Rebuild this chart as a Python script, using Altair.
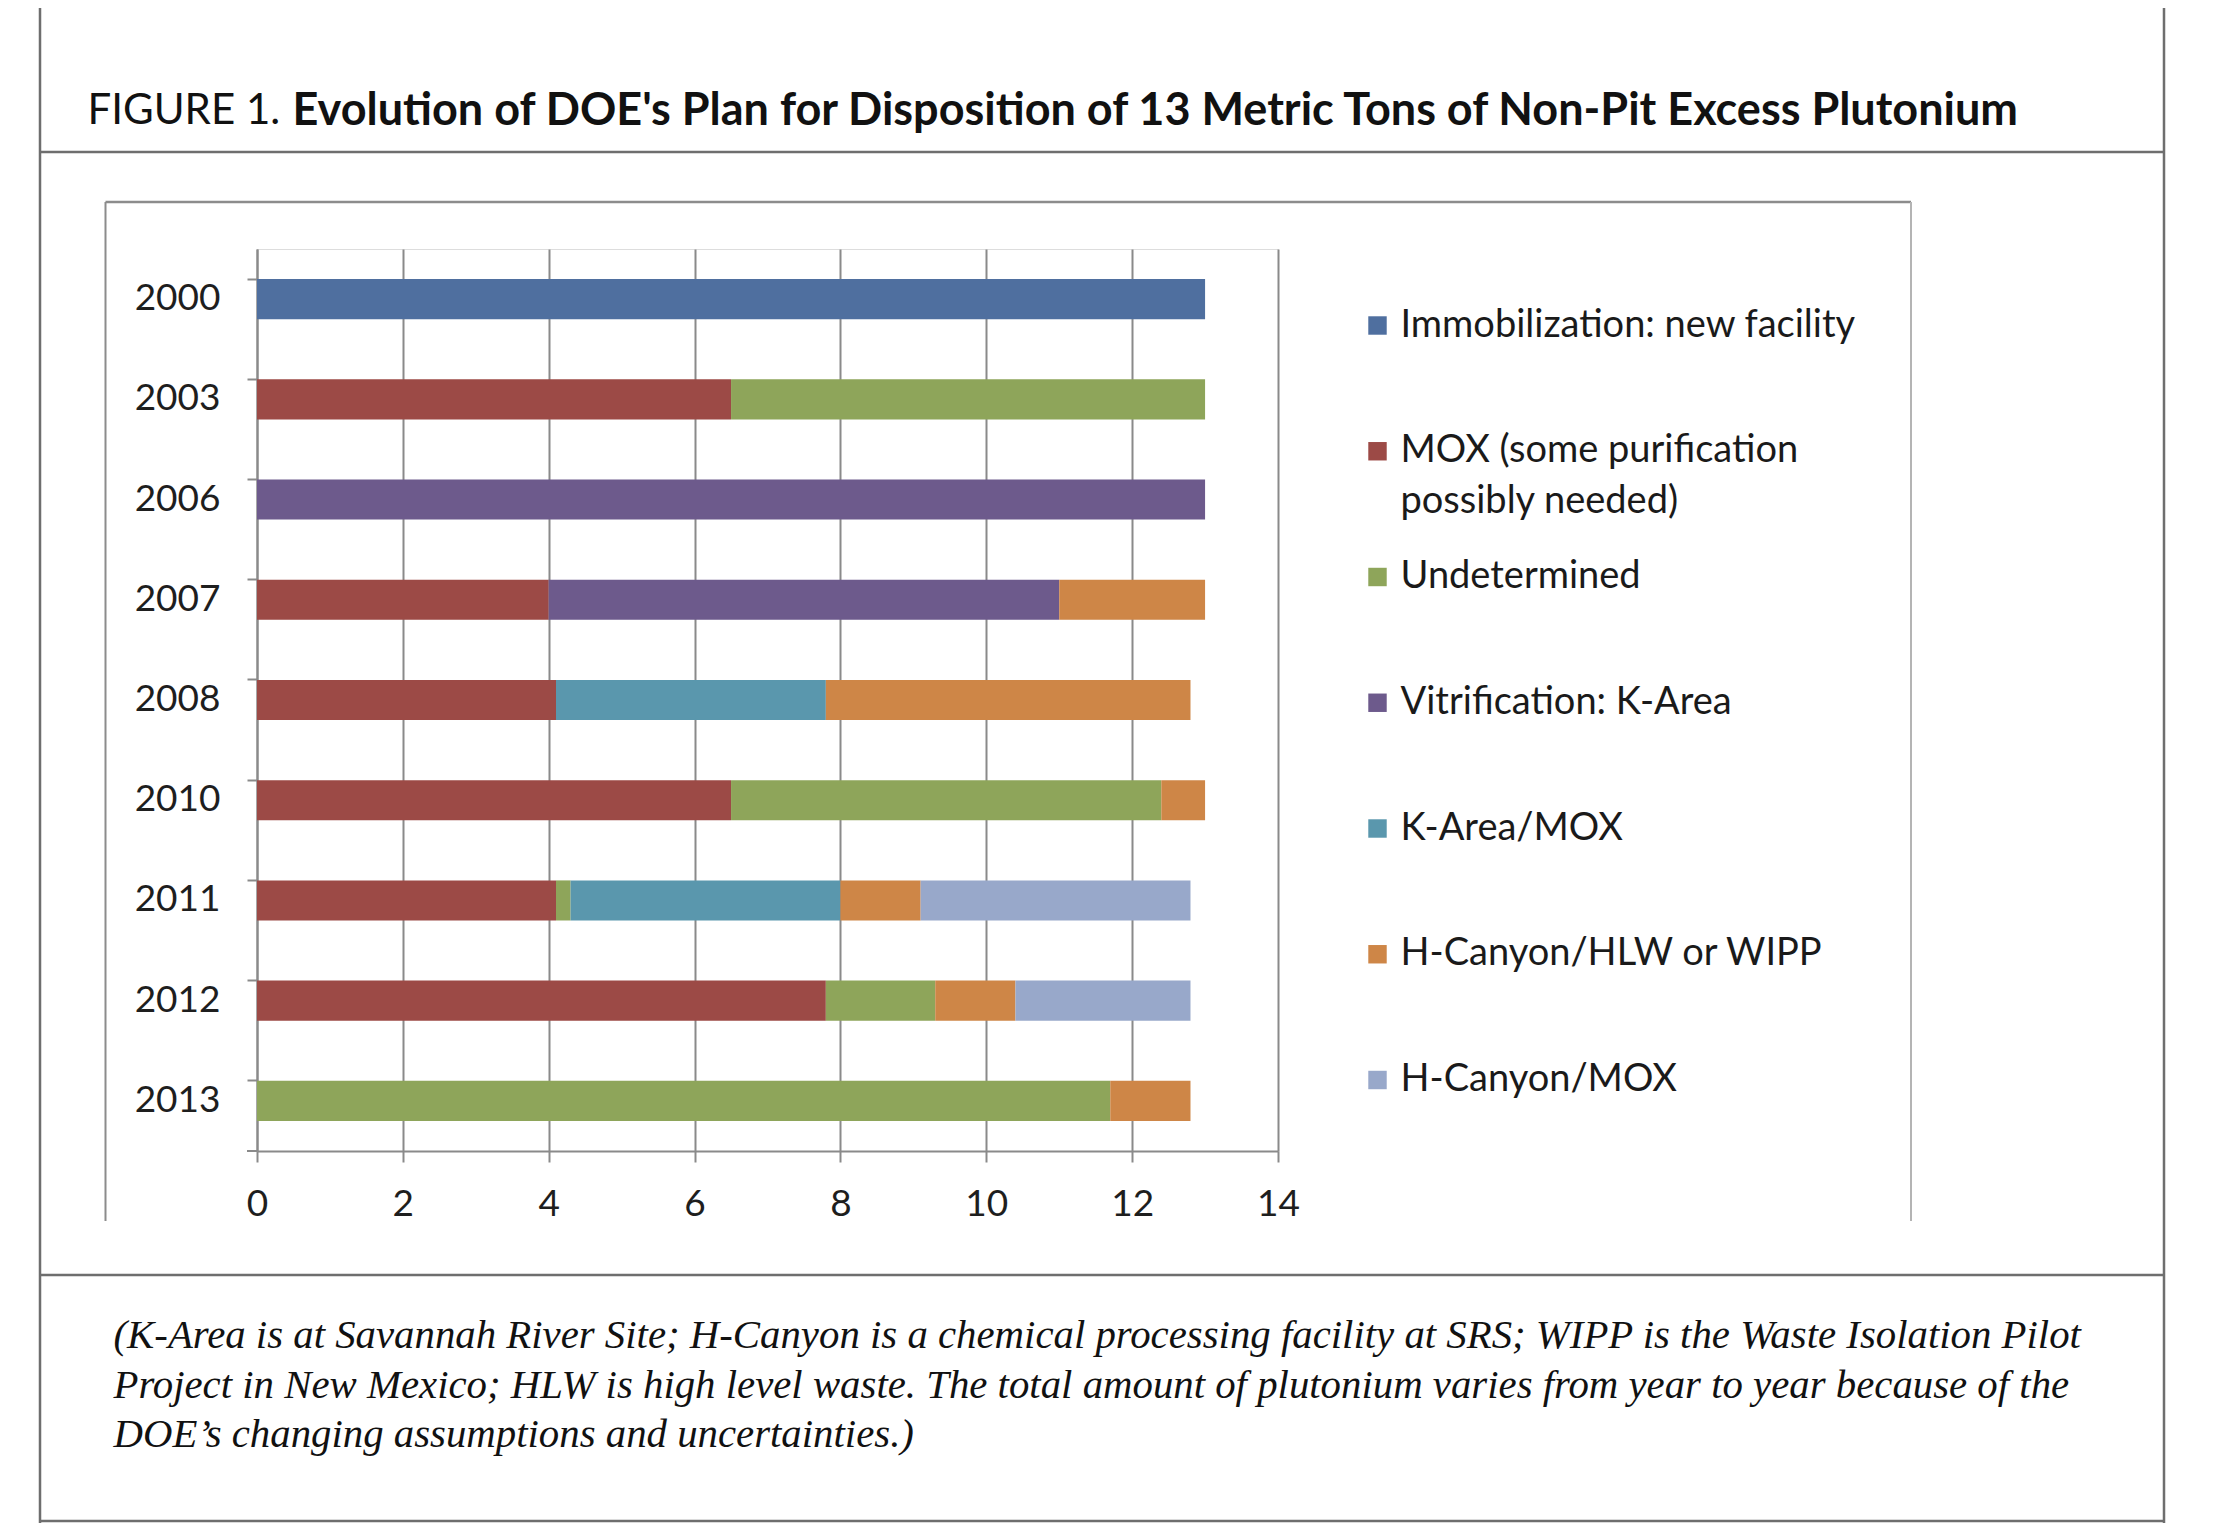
import altair as alt
import pandas as pd

# ---------------- data ----------------
years = ["2000", "2003", "2006", "2007", "2008", "2010", "2011", "2012", "2013"]
series = [
    "Immobilization: new facility",
    "MOX (some purification possibly needed)",
    "Undetermined",
    "Vitrification: K-Area",
    "K-Area/MOX",
    "H-Canyon/HLW or WIPP",
    "H-Canyon/MOX",
]
legend_line1 = [
    "Immobilization: new facility",
    "MOX (some purification",
    "Undetermined",
    "Vitrification: K-Area",
    "K-Area/MOX",
    "H-Canyon/HLW or WIPP",
    "H-Canyon/MOX",
]
legend_line2 = ["", "possibly needed)", "", "", "", "", ""]
colors = ["#4F6F9F", "#9C4A46", "#8EA55A", "#6D5A8C", "#5A97AD", "#CE8647", "#98A8CA"]

immobilization = [13, 0, 0, 0, 0, 0, 0, 0, 0]
mox = [0, 6.5, 0, 4.0, 4.1, 6.5, 4.1, 7.8, 0]
undetermined = [0, 6.5, 0, 0, 0, 5.9, 0.2, 1.5, 11.7]
vitrification = [0, 0, 13, 7.0, 0, 0, 0, 0, 0]
karea_mox = [0, 0, 0, 0, 3.7, 0, 3.7, 0, 0]
hcanyon_hlw = [0, 0, 0, 2.0, 5.0, 0.6, 1.1, 1.1, 1.1]
hcanyon_mox = [0, 0, 0, 0, 0, 0, 3.7, 2.4, 0]

x_ticks = [0, 2, 4, 6, 8, 10, 12, 14]

title_prefix = "FIGURE 1."
title_main = "Evolution of DOE's Plan for Disposition of 13 Metric Tons of Non-Pit Excess Plutonium"
caption_lines = [
    "(K-Area is at Savannah River Site; H-Canyon is a chemical processing facility at SRS; WIPP is the Waste Isolation Pilot",
    "Project in New Mexico; HLW is high level waste. The total amount of plutonium varies from year to year because of the",
    "DOE\u2019s changing assumptions and uncertainties.)",
]

# ---------------- tables ----------------
all_vals = [immobilization, mox, undetermined, vitrification, karea_mox, hcanyon_hlw, hcanyon_mox]
rows = []
for si, (name, vals) in enumerate(zip(series, all_vals)):
    for yi, v in enumerate(vals):
        if v > 0:
            rows.append({"year": years[yi], "series": name, "value": v, "order": si})
df = pd.DataFrame(rows)

leg = pd.DataFrame({"series": series, "line1": legend_line1, "line2": legend_line2})
one = pd.DataFrame({"k": [0]})

W, H = 1021, 902
GRAY = "#8a8a8a"
FONT = "Lato"

color_scale = alt.Scale(domain=series, range=colors)

bars = alt.Chart(df).mark_bar().encode(
    y=alt.Y(
        "year:N",
        sort=years,
        scale=alt.Scale(paddingInner=0.6, paddingOuter=0.3),
        axis=alt.Axis(
            title=None, domainColor=GRAY, domainWidth=2, tickColor=GRAY, tickWidth=2,
            tickSize=10, bandPosition=0, labelPadding=27, labelFont=FONT,
            labelFontSize=37, labelColor="#1e1e1e", grid=False,
        ),
    ),
    x=alt.X(
        "value:Q",
        stack="zero",
        scale=alt.Scale(domain=[0, 14], nice=False),
        axis=alt.Axis(
            title=None, values=x_ticks, grid=True, gridColor=GRAY, gridWidth=2,
            domainColor=GRAY, domainWidth=2, tickColor=GRAY, tickWidth=2, tickSize=11,
            labelFont=FONT, labelFontSize=37, labelColor="#1e1e1e", labelFlush=False,
            labelBaseline="middle", labelPadding=42,
        ),
    ),
    color=alt.Color("series:N", scale=color_scale, legend=None),
    order=alt.Order("order:Q"),
)

leg_y = alt.Y("series:N", sort=series,
              scale=alt.Scale(type="point", range=[76.5, 831], padding=0), axis=None)
leg_sq = alt.Chart(leg).mark_square(size=340, opacity=1).encode(
    x=alt.value(1120.5), y=leg_y,
    color=alt.Color("series:N", scale=color_scale, legend=None),
)
leg_t1 = alt.Chart(leg).mark_text(
    align="left", baseline="middle", font=FONT, fontSize=38, color="#1a1a1a"
).encode(x=alt.value(1143.5), y=leg_y, text="line1:N")
leg_t2 = alt.Chart(leg).transform_filter("datum.line2 != ''").mark_text(
    align="left", baseline="middle", font=FONT, fontSize=38, color="#1a1a1a", dy=51
).encode(x=alt.value(1143.5), y=leg_y, text="line2:N")
legend_layer = alt.layer(leg_sq, leg_t1, leg_t2)


def vrule(x, y1, y2, color, w):
    return alt.Chart(one).mark_rule(color=color, strokeWidth=w).encode(
        x=alt.value(x), y=alt.value(y1), y2=alt.value(y2)
    )


def hrule(y, x1, x2, color, w):
    return alt.Chart(one).mark_rule(color=color, strokeWidth=w).encode(
        y=alt.value(y), x=alt.value(x1), x2=alt.value(x2)
    )


OUT = "#6e6e6e"
frame = [
    vrule(-217, -241, 1274, OUT, 2.5),
    vrule(1907, -241, 1274, OUT, 2.5),
    hrule(-97, -217, 1907, OUT, 2.5),
    hrule(1026, -217, 1907, OUT, 2.5),
    hrule(1272, -217, 1907, OUT, 2.5),
    vrule(-151.5, -47, 972, "#8c8c8c", 2),
    hrule(-47, -151.5, 1654, "#8c8c8c", 2.5),
    vrule(1654, -47, 972, "#b4b4b4", 2),
    hrule(H, -10, 0, GRAY, 2),  # closing category tick at the bottom of the y axis
]

title_a = alt.Chart(one).mark_text(
    text=title_prefix, align="left", baseline="middle", font=FONT, fontSize=42, color="#111111"
).encode(x=alt.value(-169.5), y=alt.value(-138.5))
title_b = alt.Chart(one).mark_text(
    text=title_main, align="left", baseline="middle", font=FONT, fontSize=45,
    fontWeight="bold", color="#111111"
).encode(x=alt.value(35.5), y=alt.value(-138.5))

cap_y = [1087, 1136.5, 1185.5]
captions = [
    alt.Chart(one).mark_text(
        text=line, align="left", baseline="middle", font="Liberation Serif",
        fontStyle="italic", fontSize=40.8, color="#111111"
    ).encode(x=alt.value(-143.5), y=alt.value(yy))
    for line, yy in zip(caption_lines, cap_y)
]

chart = alt.layer(
    bars, legend_layer, *frame, title_a, title_b, *captions
).resolve_scale(y="independent").properties(
    width=W, height=H,
    autosize=alt.AutoSizeParams(type="none"),
    padding={"left": 249, "top": 241, "right": 929, "bottom": 376},
).configure_view(stroke=None).configure(background="white")

chart.save("out.html", embed_options={"renderer": "svg", "actions": False})
